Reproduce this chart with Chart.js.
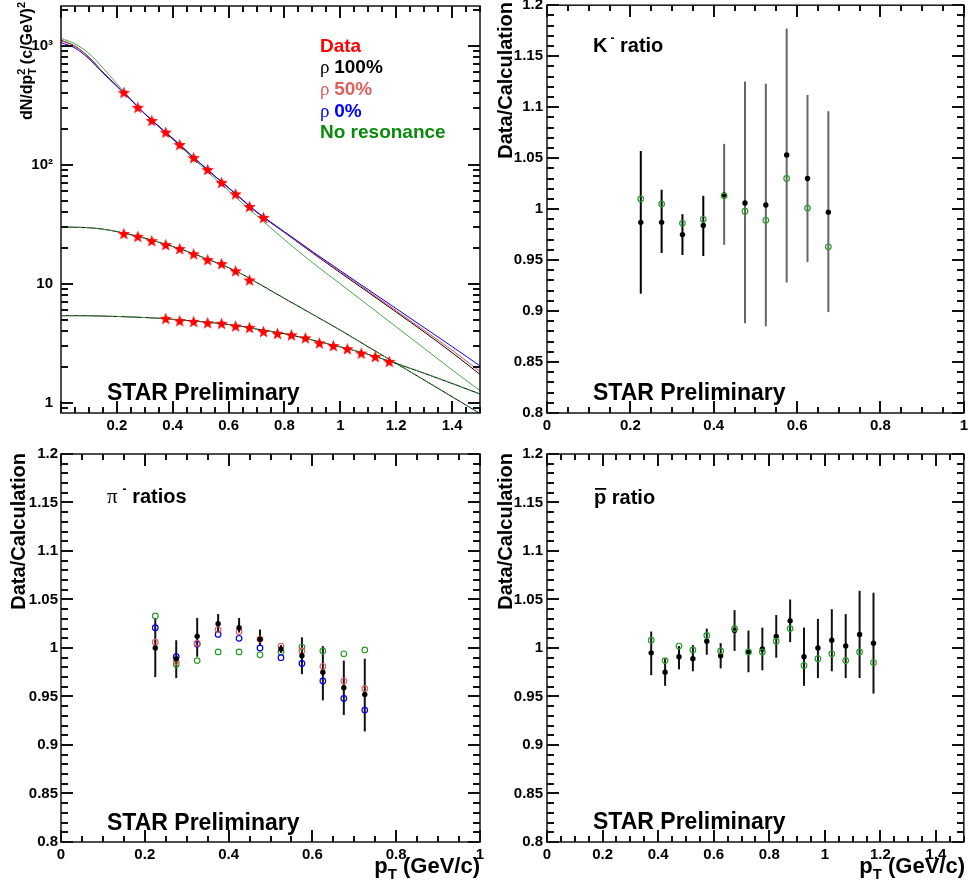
<!DOCTYPE html>
<html>
<head>
<meta charset="utf-8">
<script src="https://cdn.jsdelivr.net/npm/chart.js@4.4.0/dist/chart.umd.min.js"></script>
<style>
  body { margin: 0; background: #fff; width: 969px; height: 884px; position: relative; overflow: hidden; }
  canvas { position: absolute; }
  .tk { position: absolute; background: #111; }
</style>
</head>
<body>
<canvas id="spectra" width="490" height="440" style="left:0;top:0;width:490px;height:440px"></canvas>
<canvas id="kaon" width="479" height="440" style="left:490px;top:0;width:479px;height:440px"></canvas>
<canvas id="pion" width="490" height="444" style="left:0;top:440px;width:490px;height:444px"></canvas>
<canvas id="pbar" width="479" height="444" style="left:490px;top:440px;width:479px;height:444px"></canvas>
<script>
// ---- spectra panel (dN/dpT^2) ----
const piPt    = [0.225, 0.275, 0.325, 0.375, 0.425, 0.475, 0.525, 0.575, 0.625, 0.675, 0.725];
const piYield = [406, 304, 236, 188, 148, 115, 91.4, 71.2, 57, 44.7, 36.2];
const kPt     = [0.225, 0.275, 0.325, 0.375, 0.425, 0.475, 0.525, 0.575, 0.625, 0.675];
const kYield  = [26.5, 25.1, 23.1, 21.4, 19.8, 17.9, 16.0, 14.8, 12.9, 10.8];
const pPt     = [0.375, 0.425, 0.475, 0.525, 0.575, 0.625, 0.675, 0.725, 0.775, 0.825, 0.875, 0.925, 0.975, 1.025, 1.075, 1.125, 1.175];
const pYield  = [5.14, 4.92, 4.85, 4.73, 4.67, 4.44, 4.32, 4.0, 3.85, 3.74, 3.53, 3.2, 3.04, 2.86, 2.63, 2.46, 2.24];

// model curves sampled at these pT values
const curvePt    = [0, 0.05, 0.1, 0.15, 0.2, 0.25, 0.3, 0.35, 0.4, 0.45, 0.5, 0.55, 0.6, 0.65, 0.7, 0.8, 0.9, 1.0, 1.1, 1.2, 1.3, 1.4, 1.5];
const pionRho100 = [1110, 990, 800, 600, 460, 352, 268, 210, 166, 130, 102, 80.5, 64, 50.5, 40, 27.0, 18.2, 12.4, 8.5, 5.8, 3.95, 2.65, 1.74];
const pionRho50  = [1100, 985, 795, 598, 458, 352, 268, 210, 166, 130, 102, 80.5, 64, 50.5, 40, 27.1, 18.4, 12.6, 8.7, 5.95, 4.08, 2.78, 1.84];
const pionRho0   = [1060, 955, 775, 590, 455, 350, 267, 210, 166, 130, 102, 80.5, 64, 50.8, 40.4, 27.4, 18.7, 12.9, 8.95, 6.2, 4.3, 2.98, 2.05];
const pionNoRes  = [1150, 1035, 860, 650, 478, 355, 268, 208, 163, 127, 99, 77, 60.5, 47.5, 37.5, 23.5, 15.1, 10.0, 6.6, 4.36, 2.88, 1.90, 1.27];
const kaonCalc   = [30.0, 29.9, 29.6, 28.8, 27.5, 25.9, 24.2, 22.4, 20.6, 18.8, 17.0, 15.3, 13.7, 12.0, 10.3, 7.55, 5.56, 4.09, 2.96, 2.15, 1.56, 1.13, 0.817];
const pbarCalc   = [5.41, 5.41, 5.40, 5.37, 5.33, 5.28, 5.22, 5.15, 5.05, 4.94, 4.82, 4.70, 4.56, 4.39, 4.18, 3.82, 3.38, 2.96, 2.56, 2.15, 1.78, 1.46, 1.19];

// ---- K- ratio ----
const kRatioPt    = [0.225, 0.275, 0.325, 0.375, 0.425, 0.475, 0.525, 0.575, 0.625, 0.675];
const kRatioFull  = [0.987, 0.987, 0.975, 0.984, 1.014, 1.006, 1.004, 1.053, 1.030, 0.997];
const kRatioHi    = [1.057, 1.019, 0.995, 1.013, 1.064, 1.125, 1.123, 1.177, 1.112, 1.096];
const kRatioLo    = [0.917, 0.957, 0.955, 0.954, 0.965, 0.888, 0.885, 0.928, 0.948, 0.899];
const kRatioNoRes = [1.010, 1.005, 0.986, 0.990, 1.013, 0.998, 0.989, 1.030, 1.001, 0.963];

// ---- pi- ratios ----
const piRatioPt    = [0.225, 0.275, 0.325, 0.375, 0.425, 0.475, 0.525, 0.575, 0.625, 0.675, 0.725];
const piRatio100   = [1.000, 0.989, 1.012, 1.025, 1.021, 1.009, 0.999, 0.992, 0.975, 0.959, 0.952];
const piRatio100Hi = [1.031, 1.008, 1.031, 1.035, 1.031, 1.019, 1.003, 1.011, 1.002, 0.987, 0.989];
const piRatio100Lo = [0.970, 0.969, 0.991, 1.016, 1.016, 1.002, 0.995, 0.973, 0.946, 0.931, 0.914];
const piRatio50    = [1.006, 0.986, 1.005, 1.019, 1.017, 1.009, 1.002, 0.997, 0.981, 0.966, 0.958];
const piRatio0     = [1.021, 0.991, 1.004, 1.014, 1.010, 1.000, 0.990, 0.984, 0.966, 0.948, 0.936];
const piRatioNoRes = [1.033, 0.983, 0.987, 0.996, 0.996, 0.993, 0.996, 1.001, 0.997, 0.994, 0.998];

// ---- pbar ratio ----
const pbRatioPt    = [0.375, 0.425, 0.475, 0.525, 0.575, 0.625, 0.675, 0.725, 0.775, 0.825, 0.875, 0.925, 0.975, 1.025, 1.075, 1.125, 1.175];
const pbRatioFull  = [0.995, 0.975, 0.991, 0.989, 1.007, 0.992, 1.018, 0.996, 0.999, 1.012, 1.028, 0.991, 1.000, 1.008, 1.002, 1.014, 1.005];
const pbRatioHi    = [1.017, 0.989, 1.002, 1.003, 1.020, 1.005, 1.039, 1.018, 1.021, 1.034, 1.050, 1.021, 1.030, 1.040, 1.035, 1.059, 1.057];
const pbRatioLo    = [0.972, 0.961, 0.978, 0.976, 0.993, 0.979, 0.997, 0.975, 0.977, 0.990, 1.006, 0.961, 0.969, 0.976, 0.969, 0.969, 0.953];
const pbRatioNoRes = [1.008, 0.987, 1.002, 0.998, 1.013, 0.997, 1.020, 0.996, 0.996, 1.007, 1.020, 0.982, 0.989, 0.994, 0.987, 0.996, 0.985];

// tick labels
const logTicks   = [1, 10, 100, 1000];
const ratioTicks = [0.8, 0.85, 0.9, 0.95, 1, 1.05, 1.1, 1.15, 1.2];
const ptTicks1   = [0.2, 0.4, 0.6, 0.8, 1, 1.2, 1.4];
const ptTicks10  = [0, 0.2, 0.4, 0.6, 0.8, 1];
const ptTicks15  = [0, 0.2, 0.4, 0.6, 0.8, 1, 1.2, 1.4];

const SANS = '"Liberation Sans", Arial, sans-serif';
const SERIF = '"Liberation Serif", "DejaVu Serif", serif';
const bold = px => 'bold ' + px + 'px ' + SANS;
const serif = px => px + 'px ' + SERIF;
const GREEN = '#2a9a2a';

const toPts = (xs, ys) => xs.map((x, i) => ({x: x, y: ys[i]}));

function starImage(size, color) {
  const c = document.createElement('canvas');
  c.width = c.height = size;
  const g = c.getContext('2d');
  const r = size / 2, ri = r * 0.42;
  g.beginPath();
  for (let i = 0; i < 10; i++) {
    const a = -Math.PI / 2 + i * Math.PI / 5;
    const rr = i % 2 ? ri : r;
    g.lineTo(r + rr * Math.cos(a), r + 0.8 + rr * Math.sin(a));
  }
  g.closePath();
  g.fillStyle = color;
  g.fill();
  return c;
}
const star = starImage(13, '#ff0000');

// rich text: runs with their own font, offsets, sub/superscripts
function drawRuns(ctx, it) {
  const widths = [];
  let w = 0;
  it.runs.forEach((r, i) => {
    ctx.font = r.font;
    widths.push(ctx.measureText(r.t).width);
    w += (r.dx || 0) - (r.back ? widths[i - 1] : 0) + widths[i];
  });
  ctx.save();
  ctx.translate(it.x, it.y);
  if (it.rotate) ctx.rotate(-Math.PI / 2);
  ctx.textAlign = 'left';
  ctx.textBaseline = 'alphabetic';
  let x = it.align === 'right' ? -w : 0;
  it.runs.forEach((r, i) => {
    x += (r.dx || 0) - (r.back ? widths[i - 1] : 0);
    ctx.font = r.font;
    ctx.fillStyle = r.color || it.color || '#000';
    ctx.fillText(r.t, x, r.dy || 0);
    if (r.over) ctx.fillRect(x + 1, -r.over, widths[i] - 1, 1.8);
    x += widths[i];
  });
  ctx.restore();
}

// tick values split into major / minor
function linTicks(min, max, minor, major) {
  const out = {major: [], minor: []};
  const n = Math.round((max - min) / minor);
  for (let i = 0; i <= n; i++) {
    const v = min + i * minor;
    const q = v / major;
    (Math.abs(q - Math.round(q)) < 1e-6 ? out.major : out.minor).push(v);
  }
  return out;
}
function logTickMarks(min, max) {
  const out = {major: [], minor: []};
  for (let d = -1; d <= 4; d++) {
    for (let m = 1; m <= 9; m++) {
      const v = m * Math.pow(10, d);
      if (v >= min && v <= max) (m === 1 ? out.major : out.minor).push(v);
    }
  }
  return out;
}

// frame box and panel texts
function framePlugin(texts) {
  return {
    id: 'frameText',
    afterDraw(chart) {
      const ctx = chart.ctx;
      const a = chart.chartArea;
      ctx.save();
      ctx.strokeStyle = '#222';
      ctx.lineWidth = 1.6;
      ctx.strokeRect(a.left, a.top, a.right - a.left, a.bottom - a.top);
      ctx.restore();
      texts.forEach(it => drawRuns(ctx, it));
    }
  };
}

// vertical error bars for datasets that carry errLo / errHi
const errorBarPlugin = {
  id: 'errorBars',
  beforeDatasetsDraw(chart) {
    const ctx = chart.ctx;
    const xs = chart.scales.x, ys = chart.scales.y;
    chart.data.datasets.forEach(ds => {
      if (!ds.errLo) return;
      ctx.save();
      ctx.lineWidth = 2;
      ds.data.forEach((pt, j) => {
        const px = xs.getPixelForValue(pt.x);
        ctx.strokeStyle = ds.errColor(j);
        ctx.beginPath();
        ctx.moveTo(px, ys.getPixelForValue(ds.errLo[j]));
        ctx.lineTo(px, ys.getPixelForValue(ds.errHi[j]));
        ctx.stroke();
      });
      ctx.restore();
    });
  }
};

const fmt = v => String(+(+v).toFixed(2));
const supLabel = {1: '1', 10: '10', 100: '10\u00B2', 1000: '10\u00B3'};

// inward tick marks as small page elements placed with the chart's scales
function addTickMarks(chart, canvas, cfg) {
  const a = chart.chartArea;
  const xs = chart.scales.x, ys = chart.scales.y;
  const ox = canvas.offsetLeft, oy = canvas.offsetTop;
  const xm = linTicks(cfg.xMin, cfg.xMax, 0.05, 0.2);
  const ym = cfg.log ? logTickMarks(cfg.yMin, cfg.yMax) : linTicks(cfg.yMin, cfg.yMax, 0.01, 0.05);
  const xPix = v => {
    let p = xs.getPixelForValue(v);
    if (!isFinite(p) || p < a.left - 2 || p > a.right + 2) p = a.left + (v - cfg.xMin) / (cfg.xMax - cfg.xMin) * (a.right - a.left);
    return Math.round(p);
  };
  const yPix = v => {
    let p = ys.getPixelForValue(v);
    if (!isFinite(p) || p < a.top - 2 || p > a.bottom + 2) {
      const f = cfg.log ? Math.log10(v / cfg.yMin) / Math.log10(cfg.yMax / cfg.yMin) : (v - cfg.yMin) / (cfg.yMax - cfg.yMin);
      p = a.bottom - f * (a.bottom - a.top);
    }
    return Math.round(p);
  };
  const mark = (l, t, w, h) => {
    const d = document.createElement('div');
    d.className = 'tk';
    d.style.left = (ox + l) + 'px';
    d.style.top = (oy + t) + 'px';
    d.style.width = w + 'px';
    d.style.height = h + 'px';
    document.body.appendChild(d);
  };
  const xMark = (v, len) => {
    const p = xPix(v) - 1;
    mark(p, Math.round(a.bottom) - len, 2, len);
    mark(p, Math.round(a.top), 2, len);
  };
  const yMark = (v, len) => {
    const p = yPix(v) - 1;
    mark(Math.round(a.left), p, len, 2);
    mark(Math.round(a.right) - len, p, len, 2);
  };
  xm.major.forEach(v => xMark(v, 12));
  xm.minor.forEach(v => xMark(v, 6));
  ym.major.forEach(v => yMark(v, 12));
  ym.minor.forEach(v => yMark(v, 7));
}

function makePanel(id, cfg) {
  const canvas = document.getElementById(id);
  const chart = new Chart(canvas, {
    type: 'scatter',
    data: {datasets: cfg.datasets},
    options: {
      responsive: false,
      animation: false,
      devicePixelRatio: 1,
      layout: {padding: {left: 0, top: cfg.top, right: cfg.right, bottom: 0}},
      plugins: {legend: {display: false}, tooltip: {enabled: false}},
      scales: {
        x: {
          type: 'linear', min: cfg.xMin, max: cfg.xMax,
          grid: {display: false, drawTicks: false}, border: {display: false},
          afterBuildTicks: s => { s.ticks = cfg.xTicks.map(v => ({value: v})); },
          afterFit: s => { s.height = cfg.axisH; s.paddingLeft = 0; s.paddingRight = 0; },
          ticks: {font: {family: SANS, size: 15, weight: 'bold'}, color: '#000', padding: 4,
                  maxRotation: 0, autoSkip: false, callback: v => fmt(v)}
        },
        y: {
          type: cfg.log ? 'logarithmic' : 'linear', min: cfg.yMin, max: cfg.yMax,
          grid: {display: false, drawTicks: false}, border: {display: false},
          afterBuildTicks: s => { s.ticks = cfg.yTicks.map(v => ({value: v})); },
          afterFit: s => { s.width = cfg.axisW; s.paddingTop = 0; s.paddingBottom = 0; },
          ticks: {font: {family: SANS, size: 15, weight: 'bold'}, color: '#000', padding: cfg.yPad,
                  autoSkip: false, callback: v => cfg.log ? supLabel[v] : fmt(v)}
        }
      }
    },
    plugins: [errorBarPlugin, framePlugin(cfg.texts)]
  });
  addTickMarks(chart, canvas, cfg);
  return chart;
}

const curve = (ys, color, dash) => ({
  data: toPts(curvePt, ys), showLine: true, pointRadius: 0, borderColor: color,
  borderWidth: 1, borderDash: dash || [], cubicInterpolationMode: 'monotone'
});
const stars = (xs, ys) => ({data: toPts(xs, ys), pointStyle: star, pointRadius: 5});
const filled = (xs, ys, lo, hi, errColor) => ({
  data: toPts(xs, ys), pointStyle: 'circle', pointRadius: 2.7, borderWidth: 0,
  backgroundColor: '#000', errLo: lo, errHi: hi, errColor: errColor
});
const open = (xs, ys, color) => ({
  data: toPts(xs, ys), pointStyle: 'circle', pointRadius: 2.8, borderWidth: 1.2,
  borderColor: color, backgroundColor: 'rgba(0,0,0,0)'
});

const yTitle = (x, y) => ({x: x, y: y, rotate: true, align: 'right', runs: [{t: 'Data/Calculation', font: bold(20)}]});
const ptTitle = x => ({x: x, y: 433, align: 'right', runs: [
  {t: 'p', font: bold(22)}, {t: 'T', font: bold(15), dy: 6}, {t: ' (GeV/c)', font: bold(22)}]});
const starLabel = (x, y) => ({x: x, y: y, runs: [{t: 'STAR Preliminary', font: bold(23)}]});

makePanel('spectra', {
  xMin: 0, xMax: 1.5, yMin: 0.825, yMax: 2150, log: true,
  xTicks: ptTicks1, yTicks: logTicks, top: 3, right: 10, axisW: 61, axisH: 27, yPad: 8,
  datasets: [
    stars(piPt, piYield), stars(kPt, kYield), stars(pPt, pYield),
    curve(pionRho0, '#0000ff'), curve(pionRho50, '#e84a4a'), curve(pionRho100, '#000'), curve(pionNoRes, '#45a845'),
    curve(kaonCalc, '#3a9a3a', [5, 3]), curve(kaonCalc, '#000'),
    curve(pbarCalc, '#3a9a3a', [5, 3]), curve(pbarCalc, '#000')
  ],
  texts: [
    {x: 320, y: 52, runs: [{t: 'Data', font: bold(19), color: '#ff0000'}]},
    {x: 320, y: 73, runs: [{t: '\u03C1 ', font: serif(19)}, {t: '100%', font: bold(19)}]},
    {x: 320, y: 95, color: '#e06060', runs: [{t: '\u03C1 ', font: serif(19)}, {t: '50%', font: bold(19)}]},
    {x: 320, y: 117, color: '#0000ff', runs: [{t: '\u03C1 ', font: serif(19)}, {t: '0%', font: bold(19)}]},
    {x: 320, y: 138, runs: [{t: 'No resonance', font: bold(19), color: '#0a8a0a'}]},
    starLabel(107, 400),
    {x: 32, y: 2, rotate: true, align: 'right', runs: [
      {t: 'dN/dp', font: bold(16)}, {t: 'T', font: bold(11), dy: 4}, {t: '2', font: bold(11), dy: -7, back: true},
      {t: ' (c/GeV)', font: bold(16)}, {t: '2', font: bold(11), dy: -7}]}
  ]
});

makePanel('kaon', {
  xMin: 0, xMax: 1, yMin: 0.8, yMax: 1.2, log: false,
  xTicks: ptTicks10, yTicks: ratioTicks, top: 3, right: 4, axisW: 57, axisH: 27, yPad: 4,
  datasets: [
    open(kRatioPt, kRatioNoRes, GREEN),
    filled(kRatioPt, kRatioFull, kRatioLo, kRatioHi, j => j < 4 ? '#000' : '#666')
  ],
  texts: [
    yTitle(22, 2),
    {x: 103, y: 52, runs: [{t: 'K', font: bold(20)}, {t: '-', font: bold(12), dy: -10, dx: 3}, {t: ' ratio', font: bold(20)}]},
    starLabel(103, 400)
  ]
});

makePanel('pion', {
  xMin: 0, xMax: 1, yMin: 0.8, yMax: 1.2, log: false,
  xTicks: ptTicks10, yTicks: ratioTicks, top: 14, right: 10, axisW: 61, axisH: 42, yPad: 3,
  datasets: [
    filled(piRatioPt, piRatio100, piRatio100Lo, piRatio100Hi, () => '#111'),
    open(piRatioPt, piRatio50, '#e06060'),
    open(piRatioPt, piRatio0, '#0000ee'),
    open(piRatioPt, piRatioNoRes, GREEN)
  ],
  texts: [
    yTitle(25, 13),
    {x: 107, y: 63, runs: [{t: '\u03C0', font: serif(21)}, {t: '-', font: bold(12), dy: -10, dx: 5}, {t: ' ratios', font: bold(20)}]},
    starLabel(107, 390),
    ptTitle(480)
  ]
});

makePanel('pbar', {
  xMin: 0, xMax: 1.5, yMin: 0.8, yMax: 1.2, log: false,
  xTicks: ptTicks15, yTicks: ratioTicks, top: 14, right: 4, axisW: 57, axisH: 42, yPad: 4,
  datasets: [
    open(pbRatioPt, pbRatioNoRes, GREEN),
    filled(pbRatioPt, pbRatioFull, pbRatioLo, pbRatioHi, () => '#111')
  ],
  texts: [
    yTitle(22, 13),
    {x: 104, y: 64, runs: [{t: 'p', font: bold(20), over: 16}, {t: ' ratio', font: bold(20)}]},
    starLabel(103, 389),
    ptTitle(475)
  ]
});
</script>
</body>
</html>
